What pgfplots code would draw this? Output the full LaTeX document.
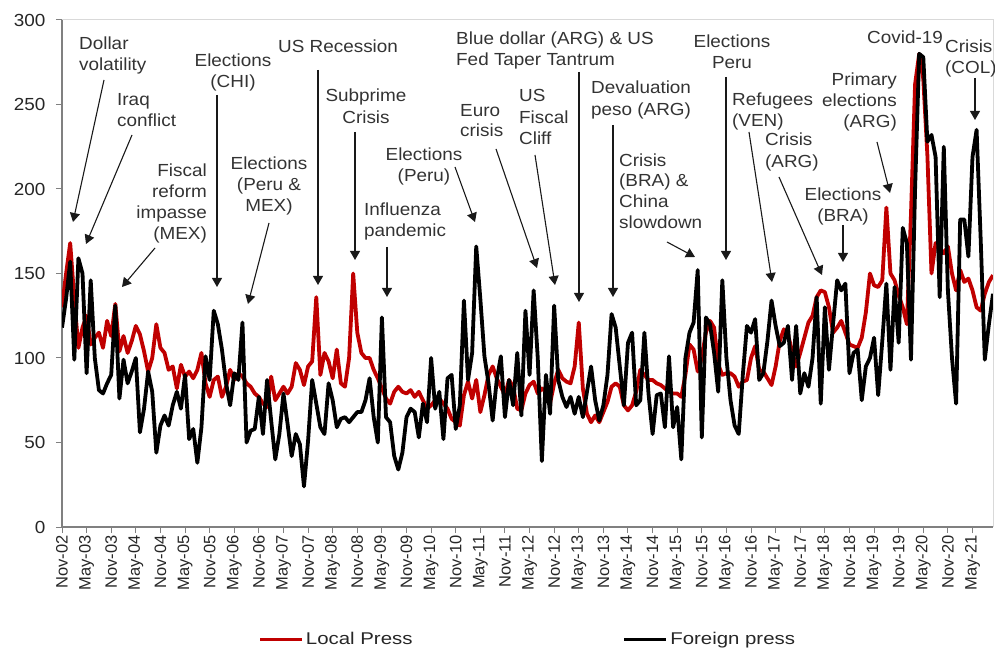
\documentclass[border=0pt]{standalone}
\usepackage{pgfplots}
\pgfplotsset{compat=1.18}
\usepackage{pgfplotstable}
\usepackage{fontspec}
\setmainfont{Liberation Sans}[FakeStretch=1.08]
\newfontfamily\tickfont{Liberation Sans}
\newfontfamily\legfont{Liberation Sans}[FakeStretch=1.2]
\usetikzlibrary{arrows.meta}
\definecolor{locred}{HTML}{C00000}

\pgfplotstableread{
idx local foreign
0 130 118
1 150 135
2 168 157
3 135 99
4 106 159
5 118 150
6 125 91
7 108 146
8 112 100
9 115 81
10 106 79
11 122 85
12 113 90
13 132 131
14 104 76
15 113 99
16 103 85
17 110 92
18 119 100
19 114 56
20 104 70
21 92 92
22 100 80
23 120 44
24 106 60
25 103 66
26 93 60
27 95 72
28 82 80
29 96 70
30 89 90
31 92 52
32 88 58
33 93 38
34 103 59
35 85 101
36 77 87
37 87 128
38 89 120
39 77 105
40 83 85
41 93 72
42 87 91
43 91 87
44 89 121
45 85 50
46 83 57
47 79 58
48 77 77
49 73 55
50 71 87
51 89 63
52 75 40
53 79 55
54 83 79
55 79 61
56 83 42
57 97 55
58 93 49
59 84 24
60 95 51
61 98 87
62 136 73
63 90 59
64 103 55
65 98 85
66 88 75
67 105 59
68 85 64
69 83 65
70 100 62
71 150 65
72 115 68
73 103 68
74 100 75
75 100 88
76 93 65
77 88 50
78 82 124
79 76 65
80 73 62
81 80 42
82 83 34
83 80 44
84 79 65
85 81 70
86 77 68
87 80 53
88 75 73
89 70 62
90 72 100
91 75 70
92 76 80
93 73 52
94 70 88
95 64 90
96 62 58
97 60 72
98 78 134
99 86 87
100 76 103
101 87 166
102 68 135
103 78 101
104 90 85
105 95 63
106 88 87
107 83 101
108 78 65
109 87 87
110 83 72
111 70 103
112 69 66
113 79 128
114 84 90
115 86 140
116 79 100
117 82 39
118 80 90
119 73 67
120 85 131
121 93 87
122 88 77
123 86 71
124 85 77
125 95 67
126 121 77
127 82 65
128 67 80
129 62 95
130 66 75
131 62 63
132 68 72
133 74 90
134 83 126
135 85 118
136 83 95
137 72 72
138 69 109
139 72 115
140 80 72
141 93 75
142 90 115
143 87 79
144 87 55
145 85 78
146 84 79
147 82 59
148 80 101
149 79 59
150 79 71
151 77 40
152 90 100
153 108 115
154 105 121
155 92 152
156 100 53
157 115 124
158 122 120
159 118 103
160 96 80
161 90 146
162 91 100
163 91 75
164 89 60
165 83 55
166 86 90
167 87 119
168 100 115
169 107 123
170 93 87
171 92 91
172 88 110
173 84 134
174 95 119
175 110 107
176 117 109
177 114 119
178 104 87
179 95 119
180 103 79
181 112 91
182 121 83
183 125 100
184 136 136
185 140 73
186 139 130
187 130 93
188 115 120
189 118 146
190 122 140
191 115 144
192 108 91
193 107 103
194 106 105
195 112 75
196 127 95
197 150 100
198 143 112
199 142 78
200 146 110
201 189 144
202 150 93
203 146 142
204 137 109
205 130 177
206 120 168
207 185 99
208 262 200
209 280 280
210 265 278
211 220 228
212 150 232
213 168 219
214 165 136
215 162 225
216 166 140
217 150 100
218 140 73
219 152 182
220 145 182
221 147 160
222 140 219
223 130 235
224 128 170
225 138 99
226 145 120
227 149 138
}\datatable

\begin{document}
\begin{tikzpicture}
\useasboundingbox (0,0) rectangle (995bp,650bp);
\clip (0,0) rectangle (995bp,650bp);
\begin{axis}[
  name=ax,
  at={(62bp,123bp)}, anchor=south west,
  scale only axis, width=931bp, height=507bp,
  xmin=0, xmax=227, ymin=0, ymax=300,
  axis x line*=bottom, axis y line*=left,
  axis line style={-, draw=black!50, line width=1.2bp},
  ytick={0,50,...,300},
  xtick={0,6,...,222},
  xticklabels={Nov-02,May-03,Nov-03,May-04,Nov-04,May-05,Nov-05,May-06,Nov-06,May-07,Nov-07,May-08,Nov-08,May-09,Nov-09,May-10,Nov-10,May-11,Nov-11,May-12,Nov-12,May-13,Nov-13,May-14,Nov-14,May-15,Nov-15,May-16,Nov-16,May-17,Nov-17,May-18,Nov-18,May-19,Nov-19,May-20,Nov-20,May-21},
  tick align=outside, major tick length=6bp,
  tick style={draw=black!50, line width=1bp},
  xticklabel style={rotate=90, anchor=east, font=\tickfont\fontsize{16.5bp}{18bp}\selectfont, text=black!85, inner sep=2bp},
  yticklabel style={font=\fontsize{17.5bp}{20bp}\selectfont, text=black!85, xshift=-7bp},
  /pgf/number format/assume math mode=true,
  legend columns=2,
  legend image code/.code={\draw[#1] (0bp,0bp) -- (42bp,0bp);},
  legend style={at={(0.2105,-0.204)}, anchor=north west, draw=none, fill=none,
    inner sep=0pt, font=\legfont\fontsize{17bp}{20bp}\selectfont, text=black!85,
    /tikz/every even column/.append style={column sep=208bp}},
]
\addplot[locred, line width=3.8bp, line join=round] table[x=idx, y=local] {\datatable};
\addlegendentry{Local Press}
\addplot[black, line width=3.8bp, line join=round] table[x=idx, y=foreign] {\datatable};
\addlegendentry{Foreign press}
\end{axis}
\draw[black!15, line width=1bp] (ax.north west) -- (ax.north east) -- (ax.south east);

\begin{scope}[x=1bp, y=-1bp, shift={(0bp,650bp)},
  ann/.style={font=\fontsize{17.5bp}{21bp}\selectfont, text=black!80, inner sep=0pt},
  arr/.style={draw=black!90, line width=1.1bp, -{Triangle[width=10bp,length=9bp]}}]
% Dollar volatility
\node[ann, anchor=base west] at (79,50) {Dollar};
\node[ann, anchor=base west] at (79,71) {volatility};
\draw[arr] (104,80) -- (73,222);
% Iraq conflict
\node[ann, anchor=base west] at (117,106) {Iraq};
\node[ann, anchor=base west] at (117,127) {conflict};
\draw[arr] (132,135) -- (86,244);
% Fiscal reform
\node[ann, anchor=base east] at (207,177) {Fiscal};
\node[ann, anchor=base east] at (207,198) {reform};
\node[ann, anchor=base east] at (207,219) {impasse};
\node[ann, anchor=base east] at (207,240) {(MEX)};
\draw[arr] (155,248) -- (122,287);
% Elections CHI
\node[ann, anchor=base] at (233,67) {Elections};
\node[ann, anchor=base] at (233,88) {(CHI)};
\draw[arr] (217,95) -- (217,287);
% Elections Peru & MEX
\node[ann, anchor=base] at (269,170) {Elections};
\node[ann, anchor=base] at (269,191) {(Peru \&};
\node[ann, anchor=base] at (269,212) {MEX)};
\draw[arr] (269,223) -- (248,304);
% US Recession
\node[ann, anchor=base west] at (278,53) {US Recession};
\draw[arr] (318,70) -- (318,285);
% Subprime
\node[ann, anchor=base] at (366,102) {Subprime};
\node[ann, anchor=base] at (366,124) {Crisis};
\draw[arr] (355,132) -- (355,260);
% Influenza
\node[ann, anchor=base west] at (364,216) {Influenza};
\node[ann, anchor=base west] at (364,237) {pandemic};
\draw[arr] (387,247) -- (387,297);
% Elections Peru
\node[ann, anchor=base] at (424,161) {Elections};
\node[ann, anchor=base] at (424,182) {(Peru)};
\draw[arr] (455,167) -- (475,222);
% Euro crisis
\node[ann, anchor=base west] at (460,117) {Euro};
\node[ann, anchor=base west] at (460,137) {crisis};
\draw[arr] (496,149) -- (537,268);
% US Fiscal Cliff
\node[ann, anchor=base west] at (519,102) {US};
\node[ann, anchor=base west] at (519,124) {Fiscal};
\node[ann, anchor=base west] at (519,145) {Cliff};
\draw[arr] (535,155) -- (555,285);
% Blue dollar
\node[ann, anchor=base west] at (456,45) {Blue dollar (ARG) \& US};
\node[ann, anchor=base west] at (456,66) {Fed Taper Tantrum};
\draw[arr] (579,72) -- (579,302);
% Devaluation
\node[ann, anchor=base west] at (591,94) {Devaluation};
\node[ann, anchor=base west] at (591,116) {peso (ARG)};
\draw[arr] (613,125) -- (613,297);
% Crisis BRA
\node[ann, anchor=base west] at (619,167) {Crisis};
\node[ann, anchor=base west] at (619,187) {(BRA) \&};
\node[ann, anchor=base west] at (619,208) {China};
\node[ann, anchor=base west] at (619,229) {slowdown};
\draw[arr] (667,242) -- (695,257);
% Elections Peru 2016
\node[ann, anchor=base] at (732,48) {Elections};
\node[ann, anchor=base] at (732,69) {Peru};
\draw[arr] (726,77) -- (726,260);
% Refugees
\node[ann, anchor=base west] at (732,106) {Refugees};
\node[ann, anchor=base west] at (732,127) {(VEN)};
\draw[arr] (749,132) -- (772,282);
% Crisis ARG
\node[ann, anchor=base west] at (765,146) {Crisis};
\node[ann, anchor=base west] at (765,168) {(ARG)};
\draw[arr] (779,177) -- (822,275);
% Elections BRA
\node[ann, anchor=base] at (843,201) {Elections};
\node[ann, anchor=base] at (843,222) {(BRA)};
\draw[arr] (843,225) -- (843,262);
% Primary elections
\node[ann, anchor=base east] at (897,86) {Primary};
\node[ann, anchor=base east] at (897,107) {elections};
\node[ann, anchor=base east] at (897,128) {(ARG)};
\draw[arr] (877,142) -- (890,193);
% Covid
\node[ann, anchor=base west] at (867,44) {Covid-19};
% Crisis COL
\node[ann, anchor=base west] at (945,53) {Crisis};
\node[ann, anchor=base west] at (945,74) {(COL)};
\draw[arr] (975,78) -- (975,120);
\end{scope}
\end{tikzpicture}
\end{document}
